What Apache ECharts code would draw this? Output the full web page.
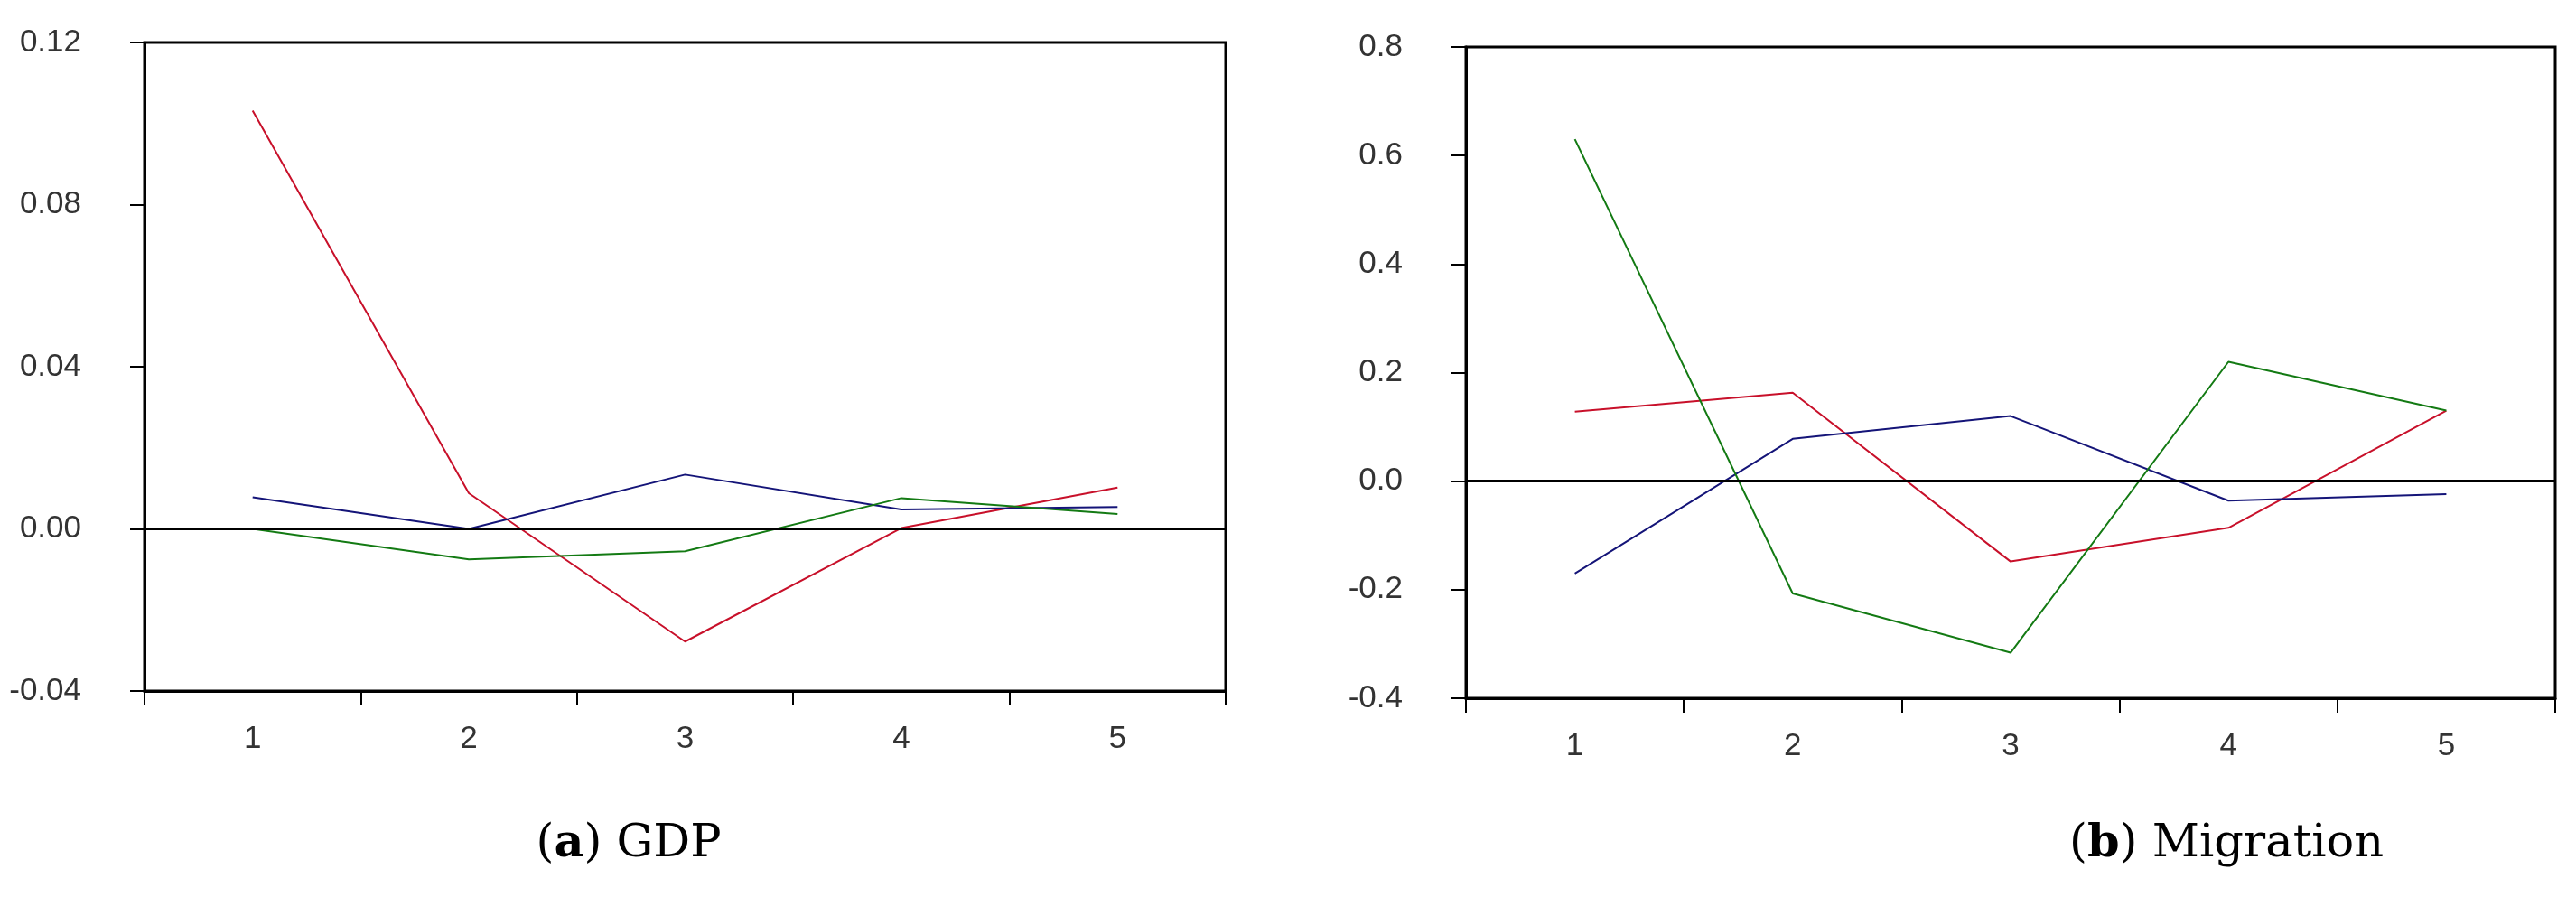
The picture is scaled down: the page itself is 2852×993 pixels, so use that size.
<!DOCTYPE html>
<html>
<head>
<meta charset="utf-8">
<script src="https://cdn.jsdelivr.net/npm/echarts@6/dist/echarts.min.js"></script>
<style>
  html, body { margin: 0; padding: 0; background: #fff; }
  #chart { width: 2852px; height: 993px; }
</style>
</head>
<body>
<div id="chart"></div>
<script>
const periods = ['1', '2', '3', '4', '5']

// (a) GDP
const gdpRed = [0.1032, 0.0088, -0.0278, 0.0002, 0.0102]
const gdpBlue = [0.0078, 0.0000, 0.0134, 0.0048, 0.0054]
const gdpGreen = [0.0000, -0.0075, -0.0055, 0.0076, 0.0037]

// (b) Migration
const migRed = [0.128, 0.163, -0.148, -0.086, 0.130]
const migBlue = [-0.170, 0.078, 0.120, -0.036, -0.024]
const migGreen = [0.630, -0.207, -0.316, 0.220, 0.130]

const captions = [
  {key: 'a', text: 'GDP'},
  {key: 'b', text: 'Migration'}
]

const chart = echarts.init(document.getElementById('chart'))

const red = '#c8102a', blue = '#141478', green = '#137a13'
const labelFont = 'Liberation Sans'

function xAxisFor(gridIndex) {
  return {
    type: 'category',
    gridIndex,
    data: periods,
    boundaryGap: true,
    axisLine: {onZero: false, lineStyle: {color: '#000', width: 3}},
    axisTick: {show: true, inside: false, length: 16, lineStyle: {color: '#000', width: 2}},
    axisLabel: {color: '#333', fontFamily: labelFont, fontSize: 35, margin: 36},
    splitLine: {show: false}
  }
}

function yAxisFor(gridIndex, min, max, interval, digits) {
  return {
    type: 'value',
    gridIndex,
    min, max, interval,
    axisLine: {show: true, lineStyle: {color: '#000', width: 3}},
    axisTick: {show: true, inside: false, length: 16, lineStyle: {color: '#000', width: 2}},
    axisLabel: {
      color: '#333', fontFamily: labelFont, fontSize: 35, margin: 70,
      formatter: v => v.toFixed(digits)
    },
    splitLine: {show: false}
  }
}

function line(name, data, color, idx, withZero) {
  const s = {
    name,
    type: 'line',
    xAxisIndex: idx,
    yAxisIndex: idx,
    data,
    symbol: 'none',
    lineStyle: {color, width: 2},
    itemStyle: {color},
    z: 3
  }
  if (withZero) {
    s.markLine = {
      silent: true,
      symbol: 'none',
      label: {show: false},
      lineStyle: {color: '#000', width: 3, type: 'solid'},
      data: [{yAxis: 0}]
    }
  }
  return s
}

function caption(c, x) {
  const base = {fontFamily: 'DejaVu Serif', fontSize: 51, fontWeight: 'normal', color: '#000'}
  return {
    left: x, top: 904, textAlign: 'center',
    text: '{p|(}{b|' + c.key + '}{p|)\u00a0' + c.text + '}',
    textStyle: {
      fontWeight: 'normal',
      rich: {
        p: base,
        b: Object.assign({}, base, {fontWeight: 'bold'})
      }
    }
  }
}

const option = {
  backgroundColor: '#fff',
  animation: false,
  title: [caption(captions[0], 691), caption(captions[1], 2460)],
  grid: [
    {left: 160, right: 1495, top: 47, bottom: 228, show: true, borderColor: '#000', borderWidth: 3, backgroundColor: '#fff'},
    {left: 1623, right: 23, top: 52, bottom: 220, show: true, borderColor: '#000', borderWidth: 3, backgroundColor: '#fff'}
  ],
  xAxis: [xAxisFor(0), xAxisFor(1)],
  yAxis: [
    yAxisFor(0, -0.04, 0.12, 0.04, 2),
    yAxisFor(1, -0.4, 0.8, 0.2, 1)
  ],
  series: [
    line('GDP red', gdpRed, red, 0, true),
    line('GDP blue', gdpBlue, blue, 0, false),
    line('GDP green', gdpGreen, green, 0, false),
    line('Migration red', migRed, red, 1, true),
    line('Migration blue', migBlue, blue, 1, false),
    line('Migration green', migGreen, green, 1, false)
  ]
}

chart.setOption(option)
</script>
</body>
</html>
